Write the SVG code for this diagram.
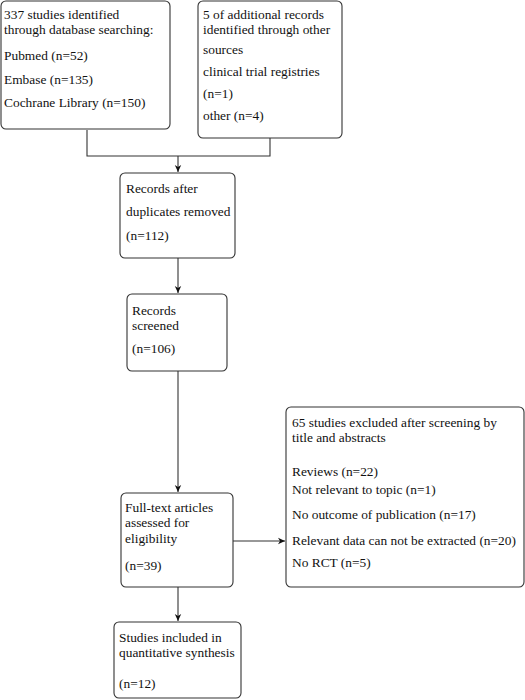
<svg xmlns="http://www.w3.org/2000/svg" width="525" height="700" viewBox="0 0 525 700">
<style>
.box{fill:#fff;stroke:#333;stroke-width:1.1}
text{font-family:"Liberation Serif","Times New Roman",serif;font-size:13.4px;fill:#111}
.c{fill:none;stroke:#333;stroke-width:1.1}
</style>
<defs>
<marker id="ah" markerWidth="8" markerHeight="8" refX="7" refY="4" orient="auto" markerUnits="userSpaceOnUse">
<path d="M0,0.8 L7,4 L0,7.2 L2,4 Z" fill="#111"/>
</marker>
</defs>
<rect width="525" height="700" fill="#fff"/>
<g id="connectors">
<path class="c" d="M87,130 V156 H270 V138"/>
<path class="c" d="M178,156 V172" marker-end="url(#ah)"/>
<path class="c" d="M178,258 V293" marker-end="url(#ah)"/>
<path class="c" d="M178,371 V492" marker-end="url(#ah)"/>
<path class="c" d="M178,587 V621" marker-end="url(#ah)"/>
<path class="c" d="M233,541 H285" marker-end="url(#ah)"/>
</g>
<g id="n1">
<rect class="box" x="1" y="1" width="169" height="128" rx="5"/>
<text x="4" y="19">337 studies identified</text>
<text x="4" y="34">through database searching:</text>
<text x="4" y="60">Pubmed (n=52)</text>
<text x="4" y="84">Embase (n=135)</text>
<text x="4" y="107">Cochrane Library (n=150)</text>
</g>
<g id="n2">
<rect class="box" x="198" y="1" width="144" height="137" rx="5"/>
<text x="203" y="19">5 of additional records</text>
<text x="203" y="34">identified through other</text>
<text x="203" y="54">sources</text>
<text x="203" y="76">clinical trial registries</text>
<text x="203" y="98">(n=1)</text>
<text x="203" y="120">other (n=4)</text>
</g>
<g id="n3">
<rect class="box" x="120" y="173" width="115" height="85" rx="5"/>
<text x="126" y="193">Records after</text>
<text x="126" y="216">duplicates removed</text>
<text x="126" y="240">(n=112)</text>
</g>
<g id="n4">
<rect class="box" x="127" y="294" width="100" height="77" rx="5"/>
<text x="132" y="315">Records</text>
<text x="132" y="330">screened</text>
<text x="132" y="353">(n=106)</text>
</g>
<g id="n5">
<rect class="box" x="121" y="493" width="112" height="94" rx="5"/>
<text x="125" y="512">Full-text articles</text>
<text x="125" y="527">assessed for</text>
<text x="125" y="543">eligibility</text>
<text x="125" y="570">(n=39)</text>
</g>
<g id="n6">
<rect class="box" x="114" y="622" width="127" height="76" rx="5"/>
<text x="119" y="642">Studies included in</text>
<text x="119" y="657">quantitative synthesis</text>
<text x="119" y="688">(n=12)</text>
</g>
<g id="n7">
<rect class="box" x="286" y="407" width="238" height="180" rx="5"/>
<text x="292" y="427">65 studies excluded after screening by</text>
<text x="292" y="442">title and abstracts</text>
<text x="292" y="476">Reviews (n=22)</text>
<text x="292" y="494">Not relevant to topic (n=1)</text>
<text x="292" y="519">No outcome of publication (n=17)</text>
<text x="292" y="545">Relevant data can not be extracted (n=20)</text>
<text x="292" y="567">No RCT (n=5)</text>
</g>
</svg>
